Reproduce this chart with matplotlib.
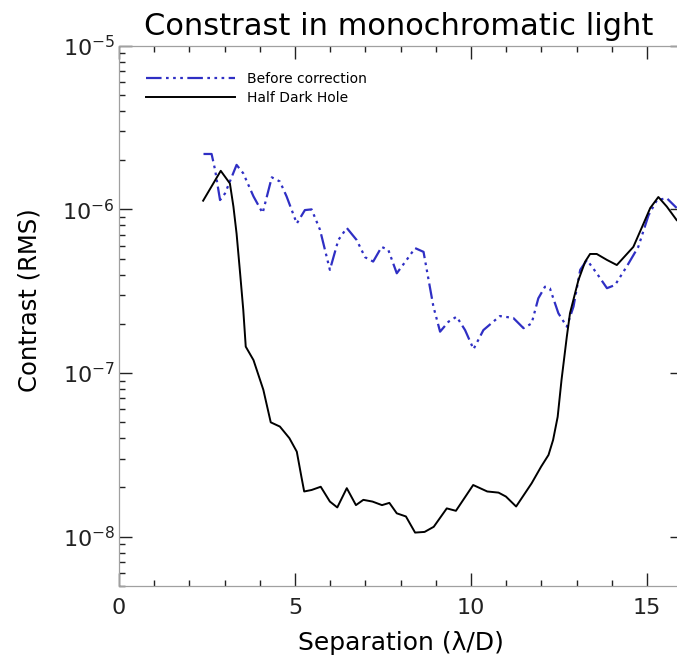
# Contrast vs separation plot (monochromatic light)
import matplotlib
matplotlib.use("Agg")  # headless backend
import matplotlib.pyplot as plt
from matplotlib.ticker import MultipleLocator, LogLocator

# --- data ---
sep_before = [2.40, 2.63, 2.73, 2.87, 3.01, 3.11, 3.34, 3.53, 3.82, 4.08,
              4.34, 4.57, 4.76, 5.05, 5.28, 5.47, 5.71, 5.99, 6.23, 6.47,
              6.75, 6.99, 7.22, 7.46, 7.65, 7.89, 8.17, 8.41, 8.65, 8.93,
              9.12, 9.36, 9.59, 9.83, 10.07, 10.35, 10.82, 11.20, 11.49, 11.72,
              11.91, 12.10, 12.24, 12.48, 12.72, 12.91, 13.10, 13.29, 13.57, 13.86,
              14.09, 14.42, 14.75, 15.04, 15.28, 15.56, 15.84]
con_before = [2.18e-6, 2.18e-6, 1.74e-6, 1.14e-6, 1.25e-6, 1.41e-6, 1.87e-6, 1.66e-6, 1.20e-6, 9.5e-7,
              1.57e-6, 1.48e-6, 1.20e-6, 8.2e-7, 9.9e-7, 1.0e-6, 7.5e-7, 4.27e-7, 6.5e-7, 7.7e-7,
              6.5e-7, 5.1e-7, 4.8e-7, 5.9e-7, 5.65e-7, 4.07e-7, 4.91e-7, 5.8e-7, 5.5e-7, 2.55e-7,
              1.79e-7, 2.06e-7, 2.21e-7, 1.83e-7, 1.40e-7, 1.83e-7, 2.23e-7, 2.17e-7, 1.88e-7, 2.01e-7,
              2.86e-7, 3.37e-7, 3.29e-7, 2.32e-7, 1.92e-7, 2.55e-7, 4.27e-7, 4.91e-7, 4.07e-7, 3.3e-7,
              3.45e-7, 4.47e-7, 5.9e-7, 9.2e-7, 1.14e-6, 1.17e-6, 1.02e-6]

sep_hdh = [2.39, 2.89, 3.15, 3.25, 3.34, 3.44, 3.53, 3.60, 3.82, 4.10,
           4.31, 4.57, 4.84, 5.05, 5.18, 5.26, 5.47, 5.73, 5.99, 6.20,
           6.47, 6.73, 6.94, 7.20, 7.47, 7.68, 7.89, 8.15, 8.41, 8.68,
           8.94, 9.31, 9.57, 10.06, 10.46, 10.78, 10.99, 11.28, 11.72, 11.99,
           12.20, 12.33, 12.46, 12.57, 12.72, 12.81, 13.05, 13.24, 13.38, 13.57,
           13.86, 14.14, 14.61, 14.90, 15.09, 15.32, 15.56, 15.84]
con_hdh = [1.13e-6, 1.72e-6, 1.44e-6, 1.04e-6, 7.1e-7, 4.07e-7, 2.43e-7, 1.45e-7, 1.20e-7, 7.9e-8,
           5.0e-8, 4.71e-8, 4.0e-8, 3.31e-8, 2.33e-8, 1.89e-8, 1.93e-8, 2.02e-8, 1.64e-8, 1.51e-8,
           1.98e-8, 1.56e-8, 1.68e-8, 1.64e-8, 1.56e-8, 1.61e-8, 1.39e-8, 1.33e-8, 1.06e-8, 1.07e-8,
           1.15e-8, 1.49e-8, 1.44e-8, 2.07e-8, 1.89e-8, 1.86e-8, 1.76e-8, 1.53e-8, 2.12e-8, 2.68e-8,
           3.16e-8, 3.9e-8, 5.4e-8, 9.1e-8, 1.67e-7, 2.32e-7, 3.7e-7, 4.79e-7, 5.34e-7, 5.34e-7,
           4.91e-7, 4.57e-7, 5.9e-7, 8.2e-7, 1.02e-6, 1.19e-6, 1.04e-6, 8.6e-7]

labels = ["Before correction", "Half Dark Hole"]
title = "Constrast in monochromatic light"

W, H = 677, 659
fig = plt.figure(figsize=(W / 100, H / 100), dpi=100)
# axes box in pixels: left 119, right 683 (cropped), top 46, bottom 586
ax = fig.add_axes([119 / W, (H - 586) / H, 564 / W, 540.3 / H])

ax.plot(sep_before, con_before, color="#2f2fc4", lw=1.6,
        dashes=(7, 2, 1.2, 2, 1.2, 2, 1.2, 2), label=labels[0])
ax.plot(sep_hdh, con_hdh, color="black", lw=1.4, label=labels[1])

ax.set_yscale("log")
ax.set_xlim(0, 16.02)
ax.set_ylim(5e-9, 1e-5)

ax.xaxis.set_major_locator(MultipleLocator(5))
ax.xaxis.set_minor_locator(MultipleLocator(1))
ax.yaxis.set_major_locator(LogLocator(base=10, numticks=10))
ax.yaxis.set_minor_locator(LogLocator(base=10, subs=range(2, 10), numticks=20))

for s in ax.spines.values():
    s.set_color("#a0a0a0")
    s.set_linewidth(0.9)

ax.tick_params(which="both", direction="in", top=True, right=True, colors="#222222")
ax.tick_params(which="major", length=9.5, width=1.0, labelsize=16, pad=9)
ax.tick_params(which="minor", length=4.3, width=1.0)
ax.tick_params(axis="y", which="major", pad=3)

ax.set_xlabel("Separation (\u03bb/D)", fontsize=18)
ax.set_ylabel("Contrast (RMS)", fontsize=17.5)
ax.xaxis.set_label_coords(0.5, -0.105)
ax.yaxis.set_label_coords(-0.158, 0.53)
ax.xaxis.label.set_va("center")
ax.yaxis.label.set_va("center")

fig.text(399 / W, 1 - 35 / H, title, ha="center", va="baseline", fontsize=22)

ax.legend(loc="upper left", bbox_to_anchor=(146 / W, 1 - 72 / H),
          bbox_transform=fig.transFigure, frameon=False, fontsize=10,
          handlelength=6.4, handletextpad=0.9, labelspacing=0.35,
          borderpad=0, borderaxespad=0)

fig.savefig("out.png", dpi=100)
